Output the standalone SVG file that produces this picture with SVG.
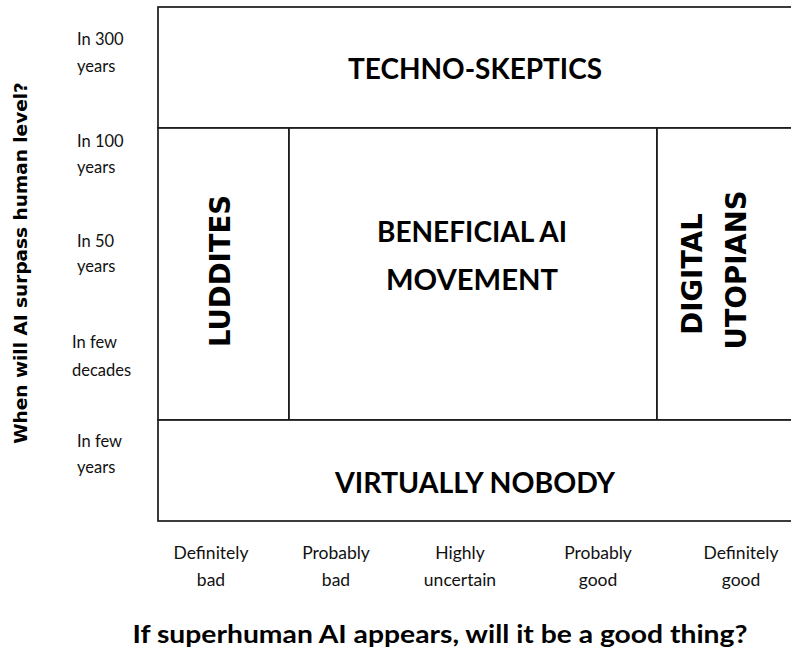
<svg xmlns="http://www.w3.org/2000/svg" width="791" height="651" viewBox="0 0 791 651">
  <style>
    .cell { fill: #ffffff; stroke: #1a1a1a; stroke-width: 1.7; }
    .title { font-family: Lato, "Liberation Sans", sans-serif; font-weight: 700; font-size: 29px; fill: #000; text-anchor: middle; }
    .vtitle { font-family: "DejaVu Sans", Verdana, sans-serif; font-weight: 700; font-size: 27.5px; fill: #000; text-anchor: middle; }
    .tick { font-family: Lato, "Liberation Sans", sans-serif; font-size: 16.5px; fill: #111; }
    .xtick { font-family: Lato, "Liberation Sans", sans-serif; font-size: 17.5px; fill: #111; text-anchor: middle; }
    .axis-y { font-family: "DejaVu Sans", Verdana, sans-serif; font-weight: 700; font-size: 18.5px; fill: #000; text-anchor: middle; }
    .axis-x { font-family: Lato, "Liberation Sans", sans-serif; font-weight: 700; font-size: 25.5px; fill: #000; text-anchor: middle; }
  </style>

  <rect width="791" height="651" fill="#ffffff"/>

  <!-- regions of the chart -->
  <g id="techno-skeptics">
    <rect class="cell" x="158" y="7" width="640" height="121"/>
    <text class="title" x="475" y="79" textLength="254" lengthAdjust="spacingAndGlyphs">TECHNO-SKEPTICS</text>
  </g>

  <g id="luddites">
    <rect class="cell" x="158" y="128" width="131" height="292"/>
    <text class="vtitle" transform="translate(230,271) rotate(-90)">LUDDITES</text>
  </g>

  <g id="beneficial-ai">
    <rect class="cell" x="289" y="128" width="368" height="292"/>
    <text class="title" x="472" y="242" textLength="190" lengthAdjust="spacingAndGlyphs">BENEFICIAL AI</text>
    <text class="title" x="472" y="290" textLength="172" lengthAdjust="spacingAndGlyphs">MOVEMENT</text>
  </g>

  <g id="digital-utopians">
    <rect class="cell" x="657" y="128" width="141" height="292"/>
    <text class="vtitle" transform="translate(702,274) rotate(-90)">DIGITAL</text>
    <text class="vtitle" transform="translate(746,270) rotate(-90)">UTOPIANS</text>
  </g>

  <g id="virtually-nobody">
    <rect class="cell" x="158" y="420" width="640" height="101"/>
    <text class="title" x="475" y="493" textLength="280" lengthAdjust="spacingAndGlyphs">VIRTUALLY NOBODY</text>
  </g>

  <!-- vertical axis: time until AI surpasses human level -->
  <g id="y-axis">
    <text class="axis-y" transform="translate(27,263) rotate(-90)">When will AI surpass human level?</text>
    <text class="tick" x="77" y="45">In 300</text>
    <text class="tick" x="77" y="72">years</text>
    <text class="tick" x="77" y="147">In 100</text>
    <text class="tick" x="77" y="173">years</text>
    <text class="tick" x="77" y="247">In 50</text>
    <text class="tick" x="77" y="272">years</text>
    <text class="tick" x="72" y="348">In few</text>
    <text class="tick" x="72" y="376">decades</text>
    <text class="tick" x="77" y="447">In few</text>
    <text class="tick" x="77" y="473">years</text>
  </g>

  <!-- horizontal axis: how good superhuman AI would be -->
  <g id="x-axis">
    <text class="xtick" x="211" y="559">Definitely</text>
    <text class="xtick" x="211" y="586">bad</text>
    <text class="xtick" x="336" y="559">Probably</text>
    <text class="xtick" x="336" y="586">bad</text>
    <text class="xtick" x="460" y="559">Highly</text>
    <text class="xtick" x="460" y="586">uncertain</text>
    <text class="xtick" x="598" y="559">Probably</text>
    <text class="xtick" x="598" y="586">good</text>
    <text class="xtick" x="741" y="559">Definitely</text>
    <text class="xtick" x="741" y="586">good</text>
    <text class="axis-x" x="440" y="643" textLength="615" lengthAdjust="spacingAndGlyphs">If superhuman AI appears, will it be a good thing?</text>
  </g>

  <g id="connectors"></g>
</svg>
